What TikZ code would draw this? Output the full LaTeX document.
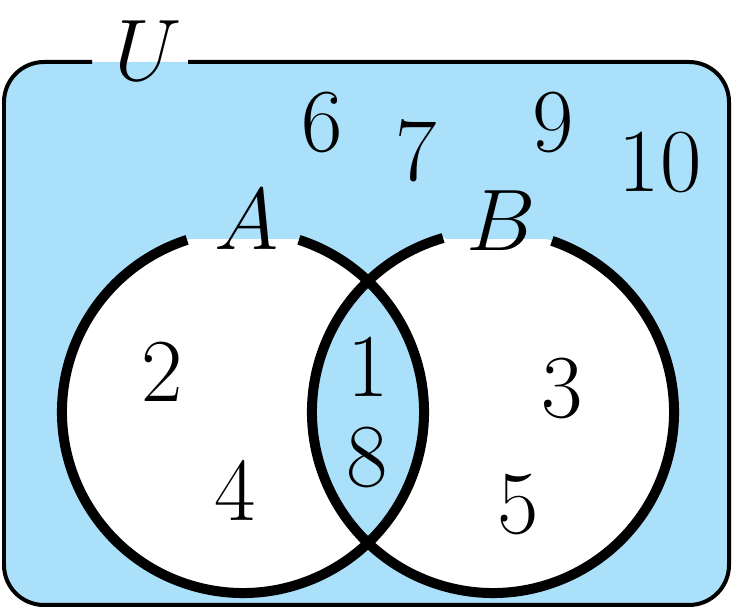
\documentclass[tikz,border=0pt]{standalone}
\usepackage{xcolor}
\usepackage{tikz}
\usetikzlibrary{calc}

\definecolor{setblue}{RGB}{170,224,249}

\begin{document}
\begin{tikzpicture}[
    x=0.1mm,
    y=0.1mm,
    num/.style={
        inner sep=0pt,
        font=\fontsize{25.6}{30}\selectfont
    },
    setlabel/.style={
        inner sep=0pt,
        font=\fontsize{26.5}{31}\selectfont
    },
    setline/.style={
        line width=1mm,
        black
    },
    border/.style={
        line width=0.4mm,
        black,
        rounded corners=4mm
    }
]
\useasboundingbox (0,0) rectangle (732,611);

% Universe and the two sets
\coordinate (ca) at (243,199);
\coordinate (cb) at (493,199);

\fill[setblue, rounded corners=4mm] (4,6) rectangle (729,549);
\fill[white] (ca) circle[radius=181];
\fill[white] (cb) circle[radius=181];
\begin{scope}
    \clip (ca) circle[radius=181];
    \fill[setblue] (cb) circle[radius=181];
\end{scope}

% Gaps for the labels
\fill[setblue] (190,372) rectangle (298,390);
\fill[setblue] (445,372) rectangle (551,390);

\draw[setline] ($(ca)+(72:181)$) arc[start angle=72, end angle=-252, radius=181];
\draw[setline] ($(cb)+(71:181)$) arc[start angle=71, end angle=-254, radius=181];
\draw[border] (188,549) -- (729,549) -- (729,6) -- (4,6) -- (4,549) -- (92,549);

% Labels
\node[inner sep=0pt, font=\fontsize{32}{38}\selectfont] (labU) at (148,560) {$U$};
\node[setlabel] (labA) at (247,391) {$A$};
\node[setlabel] (labB) at (501,390) {$B$};

% Elements
\node[num] (n6) at (322,489) {6};
\node[num] (n7) at (416,460) {7};
\node[num] (n9) at (553,489) {9};
\node[num] (n10) at (660,449) {10};
\node[num] (n2) at (162,239) {2};
\node[num] (n4) at (235,121) {4};
\node[num] (n1) at (368,244) {1};
\node[num] (n8) at (367,154) {8};
\node[num] (n3) at (562,223) {3};
\node[num] (n5) at (518,106) {5};

\end{tikzpicture}
\end{document}
